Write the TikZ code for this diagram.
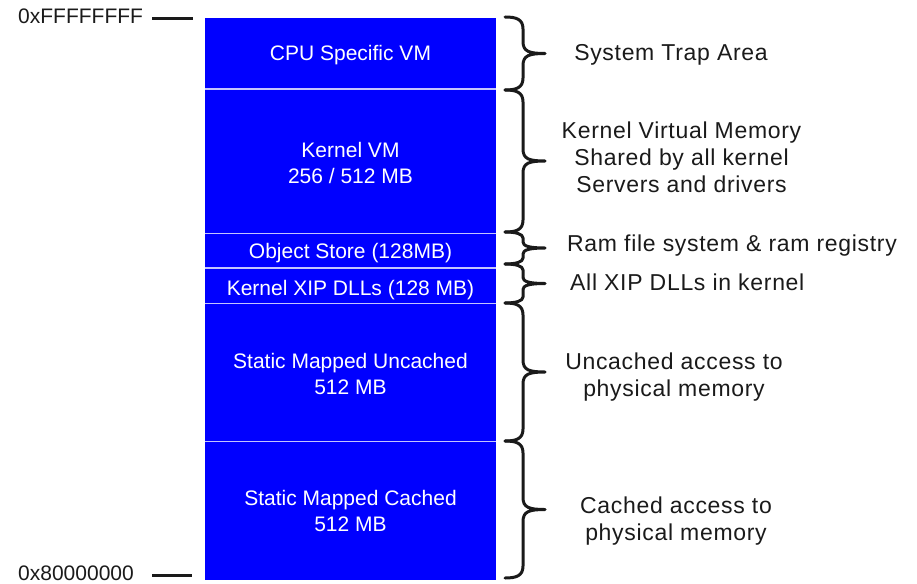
\documentclass[tikz,border=0pt]{standalone}
\usepackage{fontspec}
\setmainfont{Liberation Sans}
\newfontfamily\notefont[LetterSpace=3]{Liberation Sans}
\definecolor{memblue}{HTML}{0000FF}
\definecolor{sepblue}{HTML}{C4C4FF}
\definecolor{inkgray}{HTML}{1A1A1A}

% curly brace opening to the right: top y, bottom y, curl length
\newcommand\membrace[3]{%
  \draw[bracestroke]
    (505,#1) .. controls (516,#1) and (523,{#1+2}) .. (523,{#1+#3})
    -- (523,{(#1+#2)/2-#3})
    .. controls (523,{(#1+#2)/2-2}) and (529,{(#1+#2)/2}) .. (545,{(#1+#2)/2})
    .. controls (529,{(#1+#2)/2}) and (523,{(#1+#2)/2+2}) .. (523,{(#1+#2)/2+#3})
    -- (523,{#2-#3})
    .. controls (523,{#2-2}) and (516,#2) .. (505,#2);}

\begin{document}
\begin{tikzpicture}[x=1pt,y=-1pt,
  sepline/.style={draw=sepblue, line width=1.3pt},
  boxtext/.style={text=white, font=\fontsize{21}{26}\selectfont, inner sep=0pt, anchor=base},
  note/.style={text=inkgray, font=\notefont\fontsize{23}{27}\selectfont, inner sep=0pt, anchor=base},
  addr/.style={text=inkgray, font=\fontsize{21}{26}\selectfont, inner sep=0pt, anchor=base west},
  tick/.style={draw=inkgray, line width=3pt},
  bracestroke/.style={draw=inkgray, line width=3pt, line cap=round, line join=round}
]
\useasboundingbox (0,0) rectangle (917,583);

% memory column
\fill[memblue] (205,18) rectangle (496,580);
\coordinate (s1l) at (205,89);    \coordinate (s1r) at (496,89);
\coordinate (s2l) at (205,233.5); \coordinate (s2r) at (496,233.5);
\coordinate (s3l) at (205,268);   \coordinate (s3r) at (496,268);
\coordinate (s4l) at (205,303.5); \coordinate (s4r) at (496,303.5);
\coordinate (s5l) at (205,441.5); \coordinate (s5r) at (496,441.5);
\draw[sepline] (s1l) -- (s1r);
\draw[sepline] (s2l) -- (s2r);
\draw[sepline] (s3l) -- (s3r);
\draw[sepline] (s4l) -- (s4r);
\draw[sepline] (s5l) -- (s5r);

% region labels
\node[boxtext] (cpu) at (350.5,61) {CPU Specific VM};
\node[boxtext] (kvm) at (350.5,157) {\begin{tabular}[t]{@{}c@{}}Kernel VM\\256 / 512 MB\end{tabular}};
\node[boxtext] (obj) at (350.5,258) {Object Store (128MB)};
\node[boxtext] (xip) at (350.5,295) {Kernel XIP DLLs (128 MB)};
\node[boxtext] (unc) at (350.5,368.5) {\begin{tabular}[t]{@{}c@{}}Static Mapped Uncached\\512 MB\end{tabular}};
\node[boxtext] (cac) at (350.5,505.5) {\begin{tabular}[t]{@{}c@{}}Static Mapped Cached\\512 MB\end{tabular}};

% address marks
\node[addr] (top) at (18,24) {0xFFFFFFFF};
\node[addr] (bot) at (18,580) {0x80000000};
\coordinate (t1) at (152,18.5); \coordinate (t2) at (193,18.5);
\coordinate (b1) at (152,575);  \coordinate (b2) at (192,575);
\draw[tick] (t1) -- (t2);
\draw[tick] (b1) -- (b2);

% braces
\membrace{17}{90}{12}
\membrace{90}{232}{12}
\membrace{232}{264}{6}
\membrace{264}{303}{6}
\membrace{303}{441}{12}
\membrace{441}{578}{12}

% descriptions
\node[note] (n1) at (671,61) {System Trap Area};
\node[note] (n2) at (681.5,138) {\begin{tabular}[t]{@{}c@{}}Kernel Virtual Memory\\Shared by all kernel\\Servers and drivers\end{tabular}};
\node[note, anchor=base west] (n3) at (567,251.5) {Ram file system \& ram registry};
\node[note, anchor=base west] (n4) at (570,290) {All XIP DLLs in kernel};
\node[note] (n5) at (674,369) {\begin{tabular}[t]{@{}c@{}}Uncached access to\\physical memory\end{tabular}};
\node[note] (n6) at (676,513) {\begin{tabular}[t]{@{}c@{}}Cached access to\\physical memory\end{tabular}};
\end{tikzpicture}
\end{document}
